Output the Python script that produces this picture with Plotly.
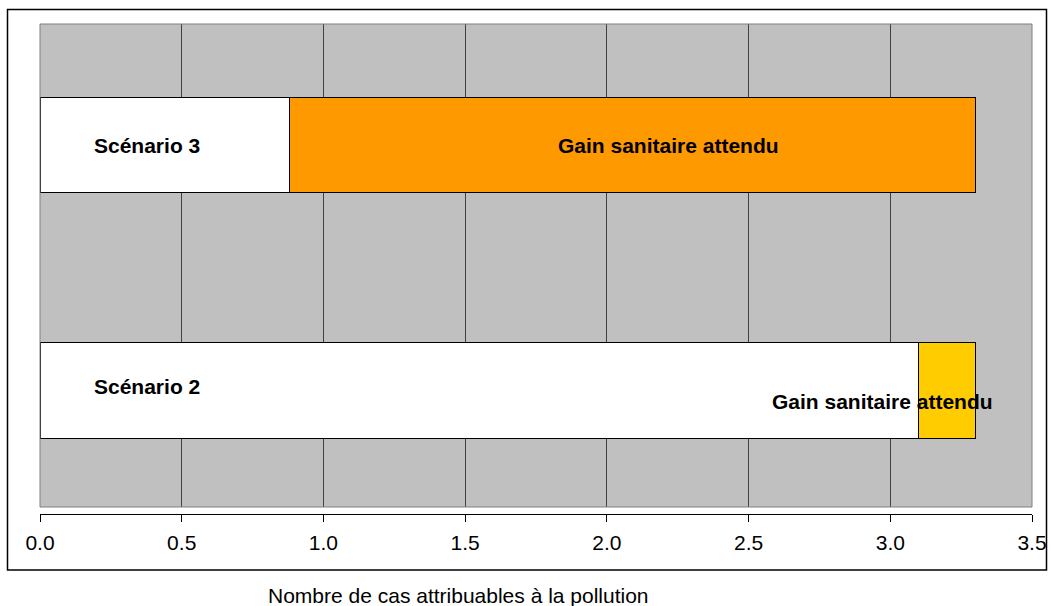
import plotly.graph_objects as go

# Data
scenarios = ["Scénario 2", "Scénario 3"]
residual_cases = [3.10, 0.88]      # cases still attributable to pollution
health_gain = [0.20, 2.42]         # expected health gain
gain_colors = ["#FFCC00", "#FF9900"]
gain_label = "Gain sanitaire attendu"
x_title = "Nombre de cas attribuables à la pollution"
x_ticks = [0.0, 0.5, 1.0, 1.5, 2.0, 2.5, 3.0, 3.5]

FONT = "Arial, 'Liberation Sans', sans-serif"

fig = go.Figure()
fig.add_trace(go.Bar(
    y=scenarios, x=residual_cases, orientation="h", width=0.39,
    marker=dict(color="white", line=dict(color="black", width=1)),
    showlegend=False, hoverinfo="skip",
))
fig.add_trace(go.Bar(
    y=scenarios, x=health_gain, orientation="h", width=0.39,
    marker=dict(color=gain_colors, line=dict(color="black", width=1)),
    showlegend=False, hoverinfo="skip",
))

W, H = 1052, 606
ML, MR, MT, MB = 40, 20, 24, 92
pw, ph = W - ML - MR, H - MT - MB
dom0 = 7 / ph  # gap between plot area and the axis line


def px_x(p):
    return (p - ML) / pw


def px_y(p):
    return (H - MB - p) / ph


fig.update_layout(
    width=W, height=H,
    margin=dict(l=ML, r=MR, t=MT, b=MB, autoexpand=False),
    barmode="stack",
    paper_bgcolor="white",
    plot_bgcolor="#C0C0C0",
    font=dict(family=FONT, size=21, color="black"),
    xaxis=dict(
        range=[0, 3.5], tickvals=x_ticks, tickformat=".1f",
        showgrid=True, gridcolor="#404040", gridwidth=1,
        zeroline=False, automargin=False,
        anchor="free", position=0,
        showline=True, linecolor="black", linewidth=1,
        ticks="outside", ticklen=7, tickcolor="black", tickwidth=1,
        tickfont=dict(size=21), ticklabelstandoff=3,
    ),
    yaxis=dict(
        type="category", categoryorder="array", categoryarray=scenarios,
        range=[-0.4745, 1.4929], domain=[dom0, 1], automargin=False,
        showticklabels=False, showgrid=False, zeroline=False, ticks="",
    ),
    shapes=[
        # plot area border
        dict(type="rect", xref="paper", yref="paper", x0=0, x1=1, y0=dom0, y1=1,
             line=dict(color="#808080", width=1), layer="above"),
        # outer chart frame
        dict(type="rect", xref="paper", yref="paper",
             x0=px_x(7.5), x1=px_x(1046.5), y0=px_y(570), y1=px_y(9.5),
             line=dict(color="black", width=1.5)),
    ],
    annotations=[
        dict(x=0.379, y=1, xref="x", yref="y", text="<b>Scénario 3</b>",
             showarrow=False, xanchor="center", yanchor="middle"),
        dict(x=2.216, y=1, xref="x", yref="y", text="<b>" + gain_label + "</b>",
             showarrow=False, xanchor="center", yanchor="middle"),
        dict(x=0.379, y=0.018, xref="x", yref="y", text="<b>Scénario 2</b>",
             showarrow=False, xanchor="center", yanchor="middle"),
        dict(x=2.971, y=-0.043, xref="x", yref="y", text="<b>" + gain_label + "</b>",
             showarrow=False, xanchor="center", yanchor="middle"),
        dict(x=px_x(458), y=px_y(595), xref="paper", yref="paper", text=x_title,
             showarrow=False, xanchor="center", yanchor="middle"),
    ],
)

fig.write_html("out.html")
